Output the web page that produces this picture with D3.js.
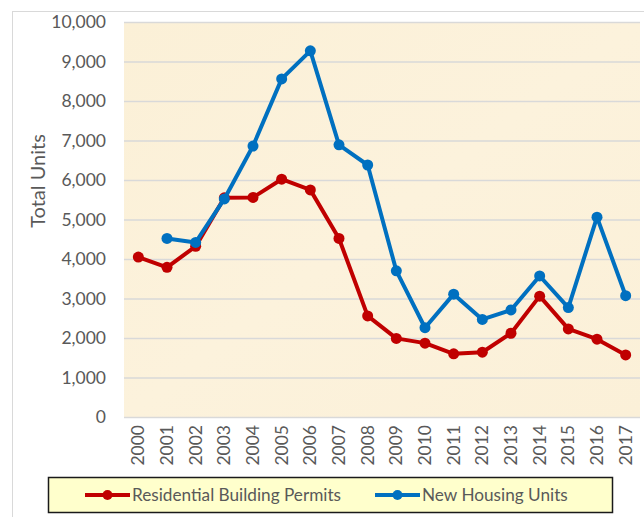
<!DOCTYPE html>
<html>
<head>
<meta charset="utf-8">
<script src="https://cdn.jsdelivr.net/npm/d3@7"></script>
<style>
  body { margin: 0; background: #ffffff; }
  text { font-family: Lato, "Open Sans", sans-serif; }
</style>
</head>
<body>
<div id="chart"></div>
<script>
// chart data
const years = ["2000","2001","2002","2003","2004","2005","2006","2007","2008",
               "2009","2010","2011","2012","2013","2014","2015","2016","2017"];
const permits = [4050, 3790, 4320, 5550, 5560, 6020, 5750, 4520, 2560,
                 1990, 1870, 1600, 1640, 2120, 3060, 2230, 1970, 1570];
const housing = [null, 4520, 4420, 5520, 6860, 8560, 9270, 6890, 6380,
                 3700, 2260, 3110, 2470, 2710, 3570, 2770, 5060, 3070];
const yTicks = [0, 1000, 2000, 3000, 4000, 5000, 6000, 7000, 8000, 9000, 10000];
const seriesNames = ["Residential Building Permits", "New Housing Units"];

const width = 644, height = 517;
const plot = { left: 124, right: 640, top: 22, bottom: 417 };
const red = "#c00000", blue = "#0070c0";

const svg = d3.select("#chart").append("svg")
    .attr("width", width)
    .attr("height", height);

// outer chart frame
svg.append("rect")
    .attr("x", 12.5).attr("y", 11.5)
    .attr("width", 640).attr("height", 520)
    .attr("fill", "#ffffff")
    .attr("stroke", "#d9d9d9");

const x = d3.scaleBand().domain(years).range([plot.left, plot.right]);
const y = d3.scaleLinear().domain([0, 10000]).range([plot.bottom, plot.top]);

// parchment-ish plot background
const defs = svg.append("defs");
const grad = defs.append("linearGradient").attr("id", "paper")
    .attr("x1", 0).attr("y1", 0).attr("x2", 1).attr("y2", 1);
grad.append("stop").attr("offset", "0%").attr("stop-color", "#fbf0d7");
grad.append("stop").attr("offset", "50%").attr("stop-color", "#fcf2dc");
grad.append("stop").attr("offset", "100%").attr("stop-color", "#fbf0d8");

svg.append("rect")
    .attr("x", plot.left).attr("y", plot.top)
    .attr("width", plot.right - plot.left)
    .attr("height", plot.bottom - plot.top)
    .attr("fill", "url(#paper)");

// gridlines + y labels
const yAxis = d3.axisLeft(y)
    .tickValues(yTicks)
    .tickSize(-(plot.right - plot.left))
    .tickPadding(18)
    .tickFormat(d3.format(","));

const gy = svg.append("g")
    .attr("transform", `translate(${plot.left},0)`)
    .call(yAxis);
gy.select(".domain").remove();
gy.selectAll(".tick line").attr("stroke", "#d9d9d9").attr("stroke-width", 1.5);
gy.selectAll(".tick text")
    .attr("fill", "#595959")
    .style("font-size", "17.5px");

// x labels, rotated
const xAxis = d3.axisBottom(x).tickSize(0).tickPadding(0);
const gx = svg.append("g")
    .attr("transform", `translate(0,${plot.bottom})`)
    .call(xAxis);
gx.select(".domain").remove();
gx.selectAll(".tick text")
    .attr("fill", "#595959")
    .style("font-size", "17.5px")
    .attr("text-anchor", "end")
    .attr("dy", "0.35em")
    .attr("transform", "translate(0,8) rotate(-90)")
    .attr("x", 0).attr("y", 0);

// y axis title
svg.append("text")
    .attr("transform", "translate(45,181) rotate(-90)")
    .attr("text-anchor", "middle")
    .attr("fill", "#595959")
    .style("font-size", "20px")
    .text("Total Units");

// series
const cx = d => x(d.year) + x.bandwidth() / 2;
function drawSeries(values, color) {
    const pts = years.map((yr, i) => ({ year: yr, v: values[i] }))
        .filter(d => d.v != null);
    const line = d3.line().x(cx).y(d => y(d.v));
    svg.append("path")
        .datum(pts)
        .attr("d", line)
        .attr("fill", "none")
        .attr("stroke", color)
        .attr("stroke-width", 4)
        .attr("stroke-linejoin", "round");
    svg.append("g").selectAll("circle")
        .data(pts)
        .join("circle")
        .attr("cx", cx)
        .attr("cy", d => y(d.v))
        .attr("r", 5.5)
        .attr("fill", color);
}
drawSeries(permits, red);
drawSeries(housing, blue);

// legend
const lg = svg.append("g");
lg.append("rect")
    .attr("x", 48.5).attr("y", 477.5)
    .attr("width", 564).attr("height", 35)
    .attr("fill", "#ffffcc")
    .attr("stroke", "#1a1a1a")
    .attr("stroke-width", 1.5);

const legendItems = [
    { name: seriesNames[0], color: red, x0: 85 },
    { name: seriesNames[1], color: blue, x0: 375 }
];
legendItems.forEach(it => {
    lg.append("line")
        .attr("x1", it.x0).attr("x2", it.x0 + 45)
        .attr("y1", 495).attr("y2", 495)
        .attr("stroke", it.color).attr("stroke-width", 4);
    lg.append("circle")
        .attr("cx", it.x0 + 22.5).attr("cy", 495).attr("r", 5)
        .attr("fill", it.color);
    lg.append("text")
        .attr("x", it.x0 + 47).attr("y", 495)
        .attr("dy", "0.35em")
        .attr("fill", "#595959")
        .style("font-size", "17.2px")
        .text(it.name);
});
</script>
</body>
</html>
